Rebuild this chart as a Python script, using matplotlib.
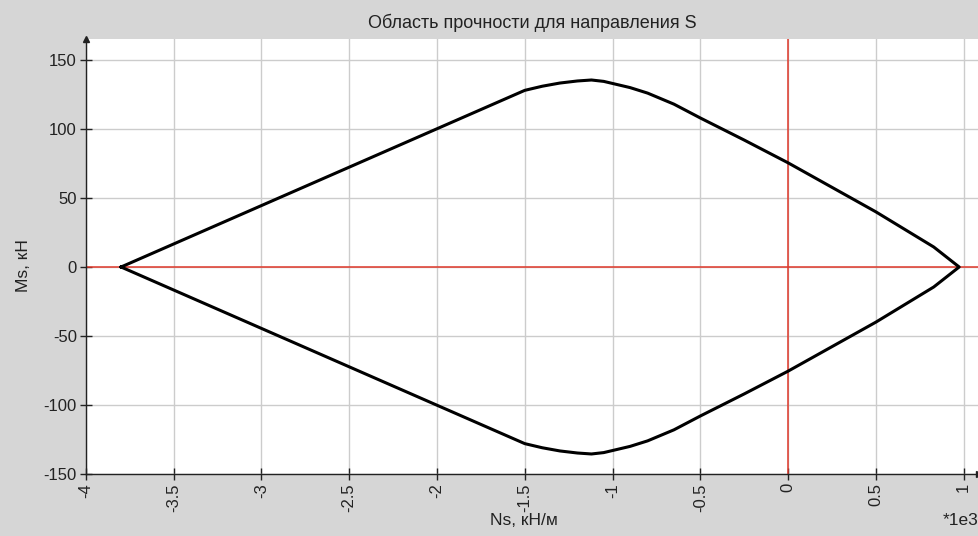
import matplotlib.pyplot as plt
import numpy as np

plt.rcParams['font.family'] = ['Liberation Sans', 'DejaVu Sans']

# upper branch of the strength envelope, Ns in 1e3 kN/m, Ms in kN
ns_upper = [-3.80, -1.50, -1.40, -1.30, -1.20, -1.12, -1.05, -1.00, -0.90, -0.80,
            -0.65, -0.50, -0.25, 0.00, 0.50, 0.83, 0.975]
ms_upper = [0.0, 128.0, 131.0, 133.3, 134.8, 135.5, 134.5, 133.0, 130.0, 126.0,
            118.0, 108.0, 92.0, 75.5, 40.0, 14.5, 0.0]

x_ticks = [-4, -3.5, -3, -2.5, -2, -1.5, -1, -0.5, 0, 0.5, 1]
y_ticks = [-150, -100, -50, 0, 50, 100, 150]

# close the contour with the mirrored lower branch
ns = np.concatenate([ns_upper, ns_upper[-2::-1]])
ms = np.concatenate([ms_upper, -np.array(ms_upper[-2::-1])])

fig = plt.figure(figsize=(9.79, 5.36), dpi=100, facecolor='#d6d6d6')
ax = fig.add_axes([0.0878, 0.1157, 0.9122, 0.8115])
ax.set_facecolor('white')

ax.set_xlim(-4, 1.088)
ax.set_ylim(-150, 165.2)
ax.set_xticks(x_ticks)
ax.set_yticks(y_ticks)
ax.set_xticklabels([('%g' % v) for v in x_ticks], rotation=90, fontsize=12, color='#222222')
ax.set_yticklabels([('%g' % v) for v in y_ticks], fontsize=12, color='#222222')
ax.tick_params(direction='inout', length=9, width=1, pad=2, colors='#222222')
ax.grid(True, color='#cccccc', linewidth=1)
ax.set_axisbelow(True)

for s in ['top', 'right']:
    ax.spines[s].set_visible(False)
for s in ['left', 'bottom']:
    ax.spines[s].set_color('#222222')
    ax.spines[s].set_linewidth(1)

ax.axhline(0, color='#e0392b', linewidth=1.1, zorder=2)
ax.axvline(0, color='#e0392b', linewidth=1.1, zorder=2)

ax.plot(ns, ms, color='black', linewidth=2.2, zorder=3)

# small arrowheads at the ends of the axes
ax.plot(1.0, 0, marker='>', markersize=4, color='#222222', transform=ax.transAxes, clip_on=False)
ax.plot(0, 1.0, marker='^', markersize=4, color='#222222', transform=ax.transAxes, clip_on=False)

ax.set_title('Область прочности для направления S', fontsize=13, color='#222222', pad=8)
fig.text(0.535, 0.02, 'Ns, кН/м', fontsize=12.5, color='#222222', ha='center')
fig.text(0.024, 0.504, 'Ms, кН', fontsize=12.5, color='#222222', rotation=90, va='center', ha='center')
fig.text(0.9995, 0.02, '*1e3', fontsize=12.5, color='#222222', ha='right')

fig.savefig('out.png', dpi=100, facecolor=fig.get_facecolor())
